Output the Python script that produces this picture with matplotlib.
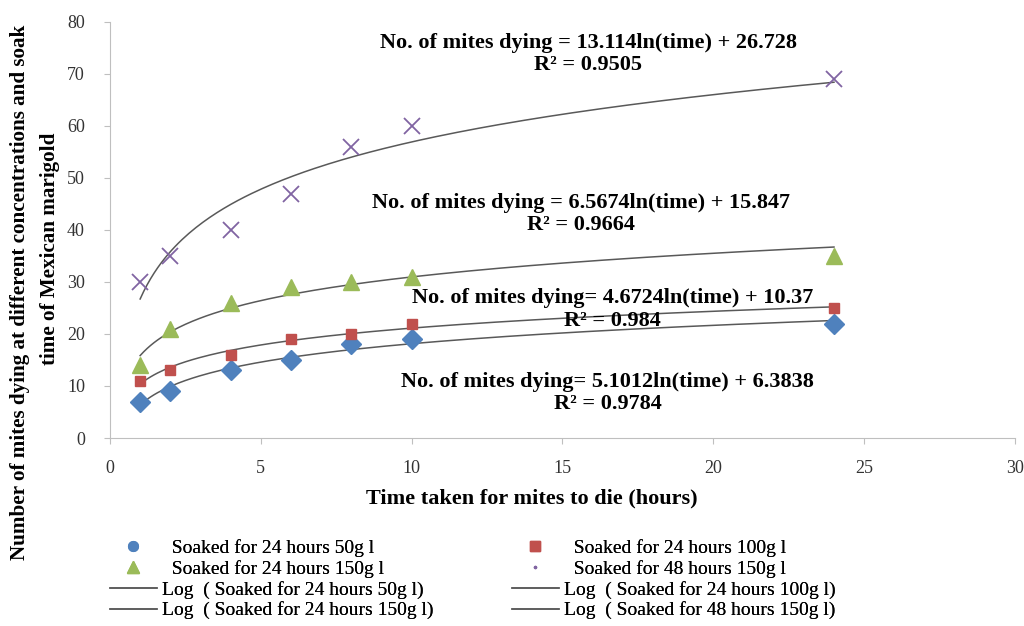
import numpy as np
import matplotlib
matplotlib.use('Agg')
import matplotlib.pyplot as plt
from matplotlib.lines import Line2D

# hours
time = [1, 2, 4, 6, 8, 10, 24]
# mites dying
soak24_50 = [7, 9, 13, 15, 18, 19, 22]
soak24_100 = [11, 13, 16, 19, 20, 22, 25]
soak24_150 = [14, 21, 26, 29, 30, 31, 35]
soak48_150 = [30, 35, 40, 47, 56, 60, 69]

labels = ['Soaked for 24 hours 50g l', 'Soaked for 24 hours 100g l',
          'Soaked for 24 hours 150g l', 'Soaked for 48 hours 150g l']
eq_texts = ['No. of mites dying= 5.1012ln(time) + 6.3838\nR² = 0.9784',
            'No. of mites dying= 4.6724ln(time) + 10.37\nR² = 0.984',
            'No. of mites dying = 6.5674ln(time) + 15.847\nR² = 0.9664',
            'No. of mites dying = 13.114ln(time) + 26.728\nR² = 0.9505']
eq_pos = [(16.5, 8.65), (16.67, 24.7), (15.6, 43.0), (15.85, 73.9)]

plt.rcParams['font.family'] = ['Liberation Serif', 'DejaVu Serif']

fig = plt.figure(figsize=(10.24, 6.26), dpi=100)
ax = fig.add_axes([0.1074, 0.3003, 0.8838, 0.6647])

series = [soak24_50, soak24_100, soak24_150, soak48_150]
colors = ['#4F81BD', '#C0504D', '#9BBB59', '#8064A2']
markers = ['D', 's', '^', 'x']
sizes = [10, 7, 12, 12]

t = np.array(time, dtype=float)
tt = np.linspace(1, 24, 200)
for ys, c, m, s, eq, pos in zip(series, colors, markers, sizes, eq_texts, eq_pos):
    if m == 'x':
        ax.plot(time, ys, linestyle='none', marker=m, color=c, markersize=s, mew=1.3, zorder=3)
    else:
        ax.plot(time, ys, linestyle='none', marker=m, color=c, markersize=s, mec=c, zorder=3)
    # log trendline fitted from the points
    a, b = np.polyfit(np.log(t), np.array(ys, dtype=float), 1)
    ax.plot(tt, a * np.log(tt) + b, color='#595959', lw=1.1, zorder=2)
    ax.text(pos[0], pos[1], eq, ha='center', va='center', fontsize=16,
            fontweight='bold', linespacing=1.15)

ax.set_xlim(0, 30)
ax.set_ylim(0, 80)
ax.set_xticks(range(0, 31, 5))
ax.set_yticks(range(0, 81, 10))
for sp in ['top', 'right']:
    ax.spines[sp].set_visible(False)
for sp in ['left', 'bottom']:
    ax.spines[sp].set_color('#BFBFBF')
ax.tick_params(axis='both', colors='#BFBFBF', labelcolor='#333333', labelsize=13, length=4)
ax.tick_params(axis='y', pad=14)
ax.tick_params(axis='x', pad=12)

ax.set_xlabel('Time taken for mites to die (hours)', fontsize=16, fontweight='bold',
              labelpad=8, x=0.466)
fig.text(20 / 1024, 1 - 292 / 626, 'Number of mites dying at different concentrations and soak',
         rotation=90, ha='center', va='center', fontsize=15.2, fontweight='bold')
fig.text(50 / 1024, 1 - 249 / 626, 'time of Mexican marigold',
         rotation=90, ha='center', va='center', fontsize=15.2, fontweight='bold')

# legend in two columns
grey = '#595959'
h1 = [Line2D([], [], ls='none', marker='o', color=colors[0], markersize=7),
      Line2D([], [], ls='none', marker='^', color=colors[2], markersize=8),
      Line2D([], [], color=grey, lw=1.1),
      Line2D([], [], color=grey, lw=1.1)]
l1 = ['  ' + labels[0], '  ' + labels[2],
      'Log  ( ' + labels[0] + ')', 'Log  ( ' + labels[2] + ')']
h2 = [Line2D([], [], ls='none', marker='s', color=colors[1], markersize=7),
      Line2D([], [], ls='none', marker='.', color=colors[3], markersize=3),
      Line2D([], [], color=grey, lw=1.1),
      Line2D([], [], color=grey, lw=1.1)]
l2 = ['  ' + labels[1], '  ' + labels[3],
      'Log  ( ' + labels[1] + ')', 'Log  ( ' + labels[3] + ')']
for hh, ll, x0 in [(h1, l1, 110), (h2, l2, 512)]:
    leg = fig.legend(hh, ll, loc='upper left', bbox_to_anchor=(x0 / 1024, 1 - 539 / 626),
                     frameon=False, fontsize=14, handlelength=2.4, handletextpad=0.25,
                     labelspacing=0.15, borderpad=0, borderaxespad=0)
    fig.add_artist(leg)

fig.savefig('out.png', dpi=100)
